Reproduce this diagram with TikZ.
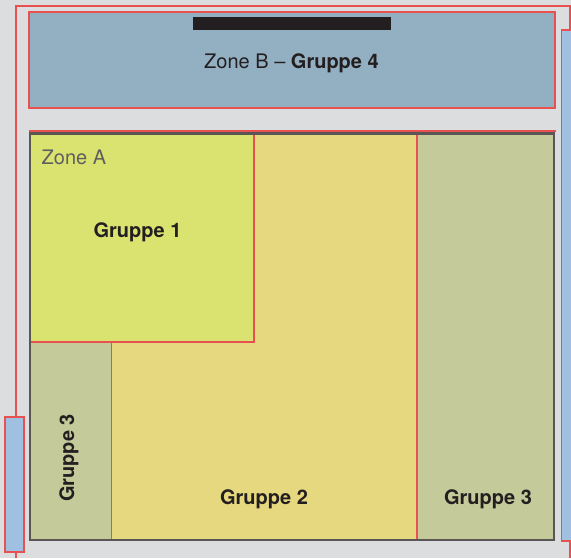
\documentclass[tikz,border=0pt]{standalone}
\usepackage{fontspec}
\setmainfont{TeX Gyre Heros}
\definecolor{bg}{HTML}{DCDDDF}
\definecolor{zoneb}{HTML}{93AFC2}
\definecolor{redl}{HTML}{E8514F}
\definecolor{bluebar}{HTML}{A0C0E2}
\definecolor{grpone}{HTML}{DAE36F}
\definecolor{grptwo}{HTML}{E6D87E}
\definecolor{grpthree}{HTML}{C4CA9A}
\definecolor{darkb}{HTML}{5A5656}
\definecolor{txt}{HTML}{231F20}
\definecolor{txtgray}{HTML}{5F5F5F}
\tikzset{
  redline/.style={draw=redl, line width=1.2pt},
  lbl/.style={font=\fontsize{20}{24}\selectfont\bfseries, text=txt, inner sep=0pt},
}
\begin{document}
\begin{tikzpicture}[x=1pt,y=-1pt]
\useasboundingbox (0,0) rectangle (571,558);
\fill[bg] (0,0) rectangle (571,558);
% outer red outline
\draw[redline] (16,558) -- (16,6) -- (570,6) -- (570,30);
\draw[redline] (570,541) -- (570,558);
% blue bars
\filldraw[fill=bluebar, draw=redl, line width=1.2pt] (5,417) rectangle (24,552);
\filldraw[fill=bluebar, draw=redl, line width=1.2pt] (561.5,30) rectangle (575,541);
% Zone B
\filldraw[fill=zoneb, draw=redl, line width=1.4pt] (29,12) rectangle (555,108);
\fill[txt] (193,17) rectangle (391,30);
\node[lbl, font=\fontsize{20}{24}\selectfont, anchor=base] (zb) at (291.5,68) {Zone B -- \textbf{Gruppe 4}};
% Zone A regions
\fill[grptwo] (30,132) rectangle (554,540);
\fill[grpone] (30,132) rectangle (254,342);
\fill[grpthree] (30,342) rectangle (111.5,540);
\fill[grpthree] (417,132) rectangle (554,540);
\draw[redl, line width=1.2pt] (30,342) -- (254,342) -- (254,132);
\draw[redl, line width=1.2pt] (111.5,342) -- (111.5,540);
\draw[redl, line width=1.2pt] (417,132) -- (417,540);
\draw[redl, line width=1.2pt] (28.5,131) -- (555.5,131);
\draw[darkb, line width=2.6pt] (29.8,133.3) rectangle (554,540);
% labels
\node[lbl, font=\fontsize{20}{24}\selectfont, text=txtgray, anchor=base west] (za) at (41.5,164) {Zone A};
\node[lbl, anchor=base] (g1) at (137.5,237) {Gruppe 1};
\node[lbl, anchor=base, rotate=90] (g3a) at (74,458) {Gruppe 3};
\node[lbl, anchor=base] (g2) at (264,504) {Gruppe 2};
\node[lbl, anchor=base] (g3b) at (488,504) {Gruppe 3};
\end{tikzpicture}
\end{document}
